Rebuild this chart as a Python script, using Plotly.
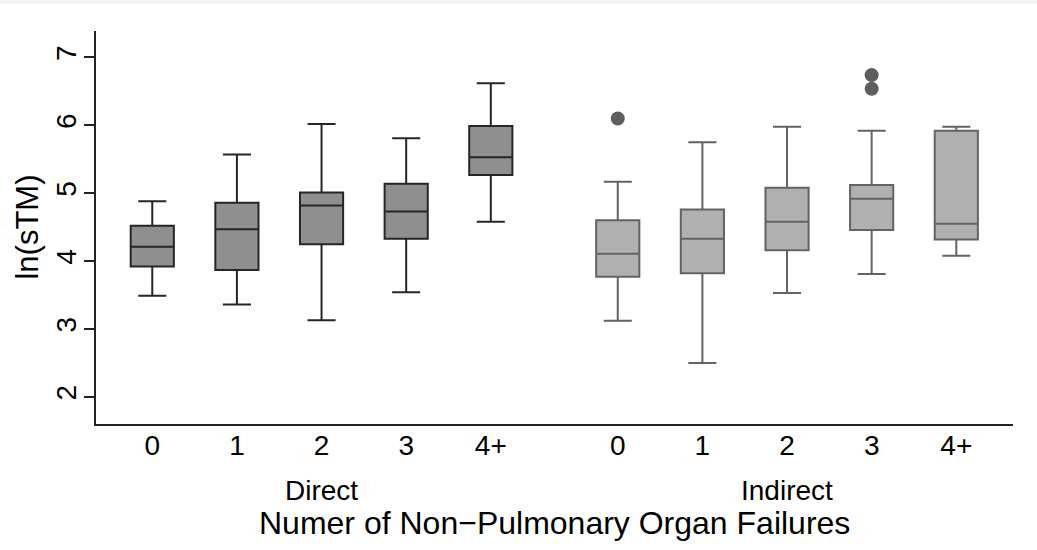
import plotly.graph_objects as go

# ---- data ----
categories = ["0", "1", "2", "3", "4+"]
groups = ["Direct", "Indirect"]

direct_lower = [3.49, 3.36, 3.13, 3.54, 4.58]
direct_q1 = [3.92, 3.87, 4.25, 4.33, 5.27]
direct_median = [4.21, 4.47, 4.82, 4.73, 5.53]
direct_q3 = [4.52, 4.86, 5.01, 5.14, 5.99]
direct_upper = [4.88, 5.57, 6.02, 5.81, 6.62]

indirect_lower = [3.12, 2.50, 3.53, 3.81, 4.08]
indirect_q1 = [3.77, 3.82, 4.16, 4.46, 4.32]
indirect_median = [4.11, 4.33, 4.58, 4.92, 4.55]
indirect_q3 = [4.60, 4.76, 5.08, 5.12, 5.92]
indirect_upper = [5.17, 5.75, 5.98, 5.92, 5.98]

indirect_outlier_cat = ["0", "3", "3"]
indirect_outlier_val = [6.10, 6.74, 6.54]

yticks = [2, 3, 4, 5, 6, 7]

# positions along the x axis
direct_pos = [i for i in range(len(categories))]
indirect_pos = [i + 5.5 for i in range(len(categories))]
cat_index = {c: i for i, c in enumerate(categories)}
outlier_pos = [indirect_pos[cat_index[c]] for c in indirect_outlier_cat]

FONT = "Liberation Sans, Arial, Helvetica, sans-serif"

fig = go.Figure()

fig.add_trace(go.Box(
    x=direct_pos, q1=direct_q1, median=direct_median, q3=direct_q3,
    lowerfence=direct_lower, upperfence=direct_upper,
    width=0.51, whiskerwidth=0.65, boxpoints=False,
    fillcolor="#8f8f8f", line=dict(color="#262626", width=2),
    name="Direct", showlegend=False, hoverinfo="skip",
))

fig.add_trace(go.Box(
    x=indirect_pos, q1=indirect_q1, median=indirect_median, q3=indirect_q3,
    lowerfence=indirect_lower, upperfence=indirect_upper,
    width=0.51, whiskerwidth=0.65, boxpoints=False,
    fillcolor="#b0b0b0", line=dict(color="#636363", width=2),
    name="Indirect", showlegend=False, hoverinfo="skip",
))

fig.add_trace(go.Scatter(
    x=outlier_pos, y=indirect_outlier_val, mode="markers",
    marker=dict(color="#5e5e5e", size=14, line=dict(width=0)),
    showlegend=False, hoverinfo="skip",
))

fig.update_layout(
    width=1037, height=550,
    margin=dict(l=96, r=24, t=31, b=126),
    paper_bgcolor="white", plot_bgcolor="white",
    font=dict(family=FONT, color="black", size=28),
    xaxis=dict(
        range=[-0.665, 10.17],
        tickvals=direct_pos + indirect_pos,
        ticktext=categories + categories,
        showline=True, linecolor="#222222", linewidth=2,
        ticks="", showgrid=False, zeroline=False,
        tickfont=dict(size=28), ticklabelstandoff=-5,
    ),
    yaxis=dict(
        range=[1.6, 7.39],
        tickvals=yticks, ticktext=[str(v) for v in yticks],
        showline=True, linecolor="#222222", linewidth=2,
        ticks="outside", ticklen=10, tickwidth=2, tickcolor="#222222",
        showgrid=False, zeroline=False, tickangle=-90,
        tickfont=dict(size=28), ticklabelstandoff=-3,
    ),
    annotations=[
        dict(text="Direct", x=2, xref="x", y=-0.168, yref="paper",
             showarrow=False, font=dict(size=28), xanchor="center", yanchor="middle"),
        dict(text="Indirect", x=7.5, xref="x", y=-0.168, yref="paper",
             showarrow=False, font=dict(size=28), xanchor="center", yanchor="middle"),
        dict(text="Numer of Non\u2212Pulmonary Organ Failures", x=4.75, xref="x",
             y=-0.252, yref="paper", showarrow=False, font=dict(size=32),
             xanchor="center", yanchor="middle"),
        dict(text="ln(sTM)", x=-0.0752, xref="paper", y=0.5, yref="paper",
             showarrow=False, font=dict(size=31), textangle=-90,
             xanchor="center", yanchor="middle"),
    ],
    shapes=[
        dict(type="line", xref="paper", yref="paper", x0=-0.2, x1=1.1,
             y0=1 + 29 / 393, y1=1 + 29 / 393, line=dict(color="#eef1f4", width=3)),
    ],
)

fig.write_html("out.html")
